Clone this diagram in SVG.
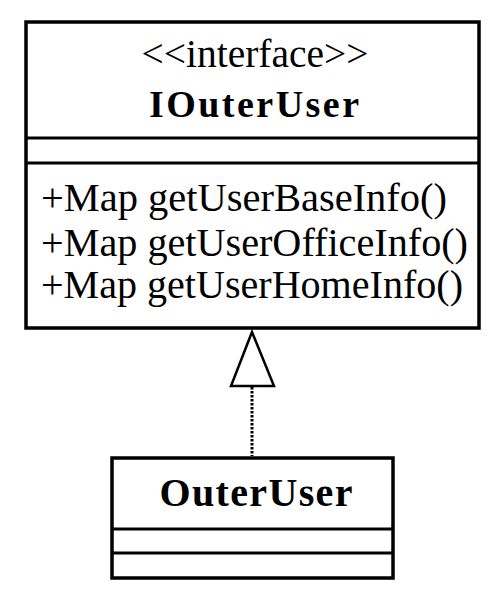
<svg xmlns="http://www.w3.org/2000/svg" width="501" height="596" viewBox="0 0 501 596">
<style>
.box{fill:#fff;stroke:#000;stroke-width:3.5}
.div{stroke:#000;stroke-width:3}
.t{font-family:"Liberation Serif","Times New Roman",serif;fill:#000}
.b{font-weight:bold}
.conn{stroke:#000;stroke-width:3;stroke-dasharray:2.5 1.5;fill:none}
.head{fill:#fff;stroke:#000;stroke-width:2.5;stroke-linejoin:miter}
</style>
<rect width="501" height="596" fill="#fff"/>
<g id="IOuterUser">
<rect class="box" x="26" y="22" width="453" height="306"/>
<line class="div" x1="26" y1="138" x2="479" y2="138"/>
<line class="div" x1="26" y1="163" x2="479" y2="163"/>
<text class="t" x="255" y="67" font-size="39" text-anchor="middle" textLength="227" lengthAdjust="spacingAndGlyphs">&lt;&lt;interface&gt;&gt;</text>
<text class="t b" x="254" y="117" font-size="38" text-anchor="middle" textLength="210" lengthAdjust="spacing">IOuterUser</text>
<text class="t" x="41" y="211" font-size="40" textLength="406" lengthAdjust="spacingAndGlyphs">+Map getUserBaseInfo()</text>
<text class="t" x="41" y="256" font-size="40" textLength="427" lengthAdjust="spacingAndGlyphs">+Map getUserOfficeInfo()</text>
<text class="t" x="41" y="298" font-size="40" textLength="422" lengthAdjust="spacingAndGlyphs">+Map getUserHomeInfo()</text>
</g>
<g id="OuterUser">
<rect class="box" x="112" y="458" width="281" height="120"/>
<line class="div" x1="112" y1="529" x2="393" y2="529"/>
<line class="div" x1="112" y1="553" x2="393" y2="553"/>
<text class="t b" x="256" y="506" font-size="40" text-anchor="middle" textLength="193" lengthAdjust="spacing">OuterUser</text>
</g>
<g id="connectors">
<line class="conn" x1="252" y1="387" x2="252" y2="456"/>
<polygon class="head" points="252,332 274,386 231,386"/>
</g>
</svg>
